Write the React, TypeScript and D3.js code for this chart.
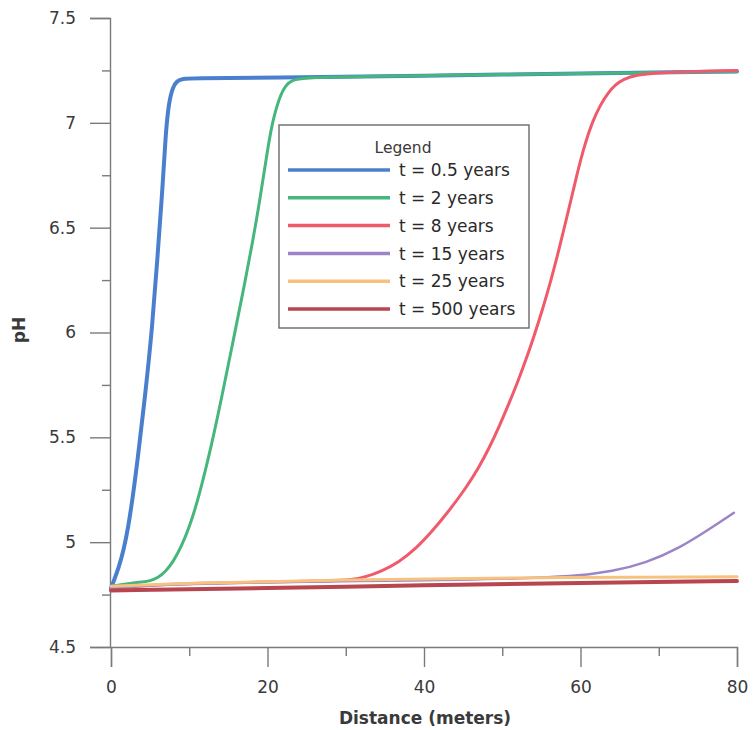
import React, { useEffect, useRef } from 'react';
import * as d3 from 'd3';

// legend / series
const seriesLabels = ['t = 0.5 years', 't = 2 years', 't = 8 years', 't = 15 years', 't = 25 years', 't = 500 years'];
const seriesColors = ['#4a7fce', '#45b67c', '#ef5b6b', '#9c84c8', '#f7c27f', '#b7464f'];
const seriesWidths = [4, 3, 3, 2.5, 3, 4];

// t = 0.5 years
const t05Distance = [0, 0.4, 1, 1.6, 2.2, 2.8, 3.36, 4.43, 5.28, 5.92, 6.56, 6.98, 7.4, 7.9, 8.4, 9.2, 10.2, 20, 40, 60, 80];
const t05PH = [4.78, 4.82, 4.88, 4.96, 5.07, 5.22, 5.38, 5.72, 6.03, 6.35, 6.67, 6.95, 7.1, 7.17, 7.2, 7.21, 7.213, 7.215, 7.225, 7.235, 7.245];

// t = 2 years
const t2Distance = [0, 1, 2.7, 4, 5, 6, 7, 8, 9, 10, 11.2, 12.9, 14.2, 15.5, 16.8, 18.1, 19.1, 20, 20.6, 21.5, 22.3, 23.2, 24.5, 30, 50, 68, 80];
const t2PH = [4.79, 4.795, 4.805, 4.81, 4.815, 4.83, 4.86, 4.91, 4.98, 5.07, 5.21, 5.47, 5.7, 5.94, 6.18, 6.43, 6.65, 6.87, 7.0, 7.12, 7.18, 7.205, 7.215, 7.22, 7.23, 7.24, 7.245];

// t = 8 years
const t8Distance = [0, 3, 10, 20, 28, 30.8, 32.6, 34.5, 36.8, 39, 41, 43, 45.4, 47, 48.3, 49.6, 50.9, 52, 53, 54, 55.1, 56.2, 57.3, 58.5, 59.6, 60.6, 61.5, 62.5, 63.5, 64.5, 65.5, 67, 70, 80];
const t8PH = [4.78, 4.79, 4.805, 4.81, 4.815, 4.82, 4.835, 4.86, 4.905, 4.97, 5.05, 5.14, 5.26, 5.356, 5.447, 5.551, 5.665, 5.767, 5.867, 5.975, 6.104, 6.245, 6.402, 6.588, 6.764, 6.904, 7.003, 7.083, 7.143, 7.183, 7.208, 7.228, 7.24, 7.25];

// t = 15 years
const t15Distance = [0, 3, 10, 21, 31, 45, 55, 59.8, 64, 68.3, 72.6, 76.8, 79.6];
const t15PH = [4.78, 4.79, 4.8, 4.81, 4.815, 4.82, 4.83, 4.84, 4.86, 4.9, 4.97, 5.07, 5.14];

// t = 25 years
const t25Distance = [0, 10, 30, 50, 80];
const t25PH = [4.79, 4.805, 4.82, 4.83, 4.835];

// t = 500 years
const t500Distance = [0, 20, 40, 60, 80];
const t500PH = [4.77, 4.78, 4.795, 4.805, 4.815];

const xMajorTicks = [0, 20, 40, 60, 80];
const xMinorTicks = [10, 30, 50, 70];
const yMajorTicks = [4.5, 5, 5.5, 6, 6.5, 7, 7.5];
const yMinorTicks = [4.75, 5.25, 5.75, 6.25, 6.75, 7.25];

const W = 755;
const H = 730;
const FONT = '"DejaVu Sans", sans-serif';

const App = () => {
  const svgRef = useRef<SVGSVGElement>(null);

  useEffect(() => {
    const svg = d3.select(svgRef.current);
    svg.selectAll('*').remove();

    const x = d3.scaleLinear().domain([0, 80]).range([111, 737]);
    const y = d3.scaleLinear().domain([4.5, 7.5]).range([647, 18]);

    const series = [
      [t05Distance, t05PH],
      [t2Distance, t2PH],
      [t8Distance, t8PH],
      [t15Distance, t15PH],
      [t25Distance, t25PH],
      [t500Distance, t500PH],
    ].map(([ds, ps]) => ds.map((d, i) => ({ d, p: ps[i] })));

    svg.append('rect').attr('width', W).attr('height', H).attr('fill', '#fff');

    const axisColor = '#7a7a7a';
    const labelColor = '#3a3a3a';

    // y axis
    const yAxis = svg.append('g')
      .attr('transform', `translate(${x(0) - 1},0)`)
      .call(d3.axisLeft(y).tickValues(yMajorTicks).tickSize(20).tickPadding(14).tickFormat((d) => String(d)));
    svg.append('g')
      .attr('transform', `translate(${x(0) - 1},0)`)
      .call(d3.axisLeft(y).tickValues(yMinorTicks).tickSize(8).tickFormat(() => ''))
      .call((g) => g.select('.domain').remove());

    // x axis
    const xAxis = svg.append('g')
      .attr('transform', `translate(0,${y(4.5)})`)
      .call(d3.axisBottom(x).tickValues(xMajorTicks).tickSize(20).tickPadding(14).tickFormat((d) => String(d)));
    svg.append('g')
      .attr('transform', `translate(0,${y(4.5)})`)
      .call(d3.axisBottom(x).tickValues(xMinorTicks).tickSize(9).tickFormat(() => ''))
      .call((g) => g.select('.domain').remove());

    svg.selectAll('.domain, .tick line')
      .attr('stroke', axisColor)
      .attr('stroke-width', 1.4);
    [yAxis, xAxis].forEach((a) => a.selectAll('text')
      .style('font-family', FONT)
      .style('font-size', '17px')
      .attr('fill', labelColor));

    // curves (basis spline, the original plot is smooth)
    const line = d3.line<{ d: number; p: number }>()
      .x((v) => x(v.d))
      .y((v) => y(v.p))
      .curve(d3.curveBasis);

    series.forEach((s, i) => {
      svg.append('path')
        .datum(s)
        .attr('fill', 'none')
        .attr('stroke', seriesColors[i])
        .attr('stroke-width', seriesWidths[i])
        .attr('stroke-linecap', 'round')
        .attr('d', line);
    });

    // axis titles
    svg.append('text')
      .attr('x', 425)
      .attr('y', 724)
      .attr('text-anchor', 'middle')
      .style('font-family', FONT)
      .style('font-size', '17px')
      .style('font-weight', 'bold')
      .attr('fill', labelColor)
      .text('Distance (meters)');

    svg.append('text')
      .attr('transform', 'rotate(-90)')
      .attr('x', -330)
      .attr('y', 25)
      .attr('text-anchor', 'middle')
      .style('font-family', FONT)
      .style('font-size', '17px')
      .style('font-weight', 'bold')
      .attr('fill', labelColor)
      .text('pH');

    // legend
    const legend = svg.append('g');
    legend.append('rect')
      .attr('x', 279)
      .attr('y', 125)
      .attr('width', 250)
      .attr('height', 203)
      .attr('fill', '#fff')
      .attr('stroke', '#6a6a6a')
      .attr('stroke-width', 1.4);
    legend.append('text')
      .attr('x', 403)
      .attr('y', 153)
      .attr('text-anchor', 'middle')
      .style('font-family', FONT)
      .style('font-size', '15.5px')
      .attr('fill', labelColor)
      .text('Legend');

    seriesLabels.forEach((label, i) => {
      const cy = 170 + i * 27.8;
      legend.append('line')
        .attr('x1', 288)
        .attr('x2', 390)
        .attr('y1', cy)
        .attr('y2', cy)
        .attr('stroke', seriesColors[i])
        .attr('stroke-width', 3.5);
      legend.append('text')
        .attr('x', 399)
        .attr('y', cy)
        .attr('dy', '0.36em')
        .style('font-family', FONT)
        .style('font-size', '17px')
        .attr('fill', '#2a2a2a')
        .text(label);
    });
  }, []);

  return (
    <svg
      ref={svgRef}
      width={W}
      height={H}
      style={{ position: 'absolute', left: 0, top: 0 }}
    />
  );
};

export default App;
